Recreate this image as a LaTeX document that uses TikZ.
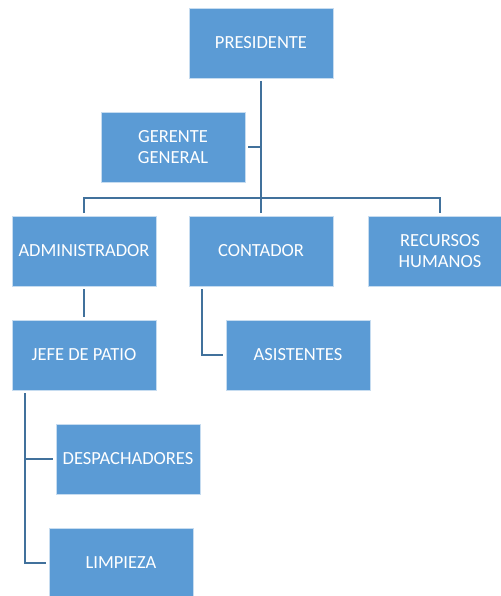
\documentclass[tikz,border=0pt]{standalone}
\usepackage{fontspec}
\setmainfont{Carlito}
\usetikzlibrary{calc}
\definecolor{boxblue}{HTML}{5B9BD5}
\definecolor{linkblue}{HTML}{41719C}

\begin{document}
\begin{tikzpicture}[x=1pt, y=-1pt,
  puesto/.style={rectangle, fill=boxblue, draw=boxblue!35!white, line width=0.8pt,
    minimum width=144pt, minimum height=70pt, outer sep=3pt, text=white, align=center,
    font=\fontsize{18.5}{21}\selectfont},
  enlace/.style={draw=linkblue, line width=2.8pt}]
\useasboundingbox (0,0) rectangle (500,596);

\node[puesto] (pres) at (261,43) {PRESIDENTE};
\node[puesto] (gerente) at (173,147) {GERENTE\\GENERAL};
\node[puesto] (admin) at (84,251) {ADMINISTRADOR};
\node[puesto] (contador) at (261,251) {CONTADOR};
\node[puesto] (rrhh) at (440,251) {RECURSOS\\HUMANOS};
\node[puesto] (jefe) at (84,355) {JEFE DE PATIO};
\node[puesto] (asist) at (298,355) {ASISTENTES};
\node[puesto] (desp) at (128,459) {DESPACHADORES};
\node[puesto] (limp) at (121,563) {LIMPIEZA};

\coordinate (bus) at (261,198);
\coordinate (jefebar) at ([xshift=16pt]jefe.south west);
\coordinate (contbar) at ([xshift=16pt]contador.south west);

\draw[enlace] (pres.south) -- (pres.south |- bus);
\draw[enlace] (gerente.east) -- (gerente.east -| pres.south);
\draw[enlace] (admin.north) |- (bus) -| (rrhh.north);
\draw[enlace] (contador.north) -- (contador.north |- bus);
\draw[enlace] (admin.south) -- (jefe.north);
\draw[enlace] (contbar) |- (asist.west);
\draw[enlace] (jefebar) |- (desp.west);
\draw[enlace] (jefebar) |- (limp.west);
\end{tikzpicture}
\end{document}
